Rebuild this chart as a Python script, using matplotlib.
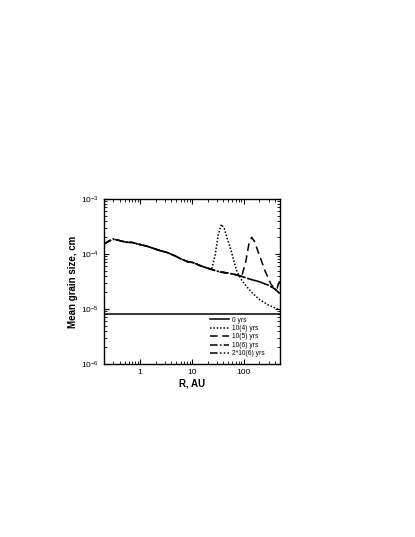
import matplotlib
matplotlib.use("Agg")
import matplotlib.pyplot as plt
from matplotlib.ticker import LogLocator, NullFormatter, FixedLocator, FixedFormatter

plt.rcParams['font.family'] = ['Liberation Sans', 'DejaVu Sans']

# Radii (AU) and mean grain sizes (cm)
r_base = [0.2, 0.25, 0.3, 0.36, 0.45, 0.55, 0.7, 0.9, 1.1, 1.43, 2.0, 2.5, 3.25, 4.5, 6.0, 8.0, 10.6, 14, 18, 25.8, 35, 50, 70, 91, 130, 205, 300, 400, 500]
a_base = [1.52e-4, 1.72e-4, 1.85e-4, 1.80e-4, 1.70e-4, 1.63e-4, 1.62e-4, 1.52e-4, 1.45e-4, 1.36e-4, 1.22e-4, 1.14e-4, 1.07e-4, 9.4e-5, 8.2e-5, 7.3e-5, 6.95e-5, 6.2e-5, 5.7e-5, 5.1e-5, 4.7e-5, 4.5e-5, 4.2e-5, 3.9e-5, 3.5e-5, 3.1e-5, 2.7e-5, 2.3e-5, 1.9e-5]

r_0 = [0.2, 500]
a_0 = [8.1e-6, 8.1e-6]

r_1e4 = [0.2, 0.25, 0.3, 0.36, 0.45, 0.55, 0.7, 0.9, 1.1, 1.43, 2.0, 2.5, 3.25, 4.5, 6.0, 8.0, 10.6, 14, 18, 24, 28, 32, 37, 42, 48, 54, 62, 72, 90, 114, 150, 205, 300, 400, 500]
a_1e4 = [1.52e-4, 1.72e-4, 1.85e-4, 1.80e-4, 1.70e-4, 1.63e-4, 1.62e-4, 1.52e-4, 1.45e-4, 1.36e-4, 1.22e-4, 1.14e-4, 1.07e-4, 9.4e-5, 8.2e-5, 7.3e-5, 6.95e-5, 6.2e-5, 5.7e-5, 5.3e-5, 9.5e-5, 2.2e-4, 3.47e-4, 2.9e-4, 1.9e-4, 1.36e-4, 8.5e-5, 5.1e-5, 3.4e-5, 2.54e-5, 1.9e-5, 1.46e-5, 1.18e-5, 1.05e-5, 9.6e-6]

r_1e5 = [0.2, 0.25, 0.3, 0.36, 0.45, 0.55, 0.7, 0.9, 1.1, 1.43, 2.0, 2.5, 3.25, 4.5, 6.0, 8.0, 10.6, 14, 18, 25.8, 35, 50, 70, 91, 110, 125, 142, 160, 205, 260, 330, 390, 440, 500]
a_1e5 = [1.52e-4, 1.72e-4, 1.85e-4, 1.80e-4, 1.70e-4, 1.63e-4, 1.62e-4, 1.52e-4, 1.45e-4, 1.36e-4, 1.22e-4, 1.14e-4, 1.07e-4, 9.4e-5, 8.2e-5, 7.3e-5, 6.95e-5, 6.2e-5, 5.7e-5, 5.1e-5, 4.7e-5, 4.5e-5, 4.2e-5, 3.9e-5, 7.5e-5, 1.5e-4, 2.0e-4, 1.7e-4, 8.9e-5, 4.8e-5, 2.9e-5, 2.3e-5, 2.4e-5, 3.4e-5]

r_1e6 = r_base
a_1e6 = a_base
r_2e6 = r_base
a_2e6 = a_base

labels = ["0 yrs", "10(4) yrs", "10(5) yrs", "10(6) yrs", "2*10(6) yrs"]
x_ticks = [1, 10, 100]
x_ticklabels = ["1", "10", "100"]

fig = plt.figure(figsize=(4.15, 5.37), dpi=100)
ax = fig.add_axes([0.2506, 0.3222, 0.4241, 0.3073])

lw = 1.1
ax.plot(r_0, a_0, color='black', lw=lw, linestyle='-', label=labels[0])
ax.plot(r_1e4, a_1e4, color='black', lw=lw, linestyle=(0, (1, 1.2)), label=labels[1])
ax.plot(r_1e5, a_1e5, color='black', lw=lw, linestyle=(0, (5, 3)), label=labels[2])
ax.plot(r_1e6, a_1e6, color='black', lw=lw, linestyle=(0, (5, 1.5, 1, 1.5)), label=labels[3])
ax.plot(r_2e6, a_2e6, color='black', lw=lw, linestyle=(0, (5, 1.5, 1, 1.5, 1, 1.5)), label=labels[4])

ax.set_xscale('log')
ax.set_yscale('log')
ax.set_xlim(0.2, 500)
ax.set_ylim(1e-6, 1e-3)

ax.xaxis.set_major_locator(FixedLocator(x_ticks))
ax.xaxis.set_major_formatter(FixedFormatter(x_ticklabels))
ax.xaxis.set_minor_locator(LogLocator(base=10, subs=range(2, 10), numticks=20))
ax.xaxis.set_minor_formatter(NullFormatter())
ax.yaxis.set_minor_locator(LogLocator(base=10, subs=range(2, 10), numticks=20))
ax.yaxis.set_minor_formatter(NullFormatter())

ax.tick_params(which='both', direction='in', top=True, right=True, labelsize=6)
ax.tick_params(which='major', length=3.5, width=0.8)
ax.tick_params(which='minor', length=2, width=0.6)
for s in ax.spines.values():
    s.set_linewidth(1.0)

ax.set_xlabel("R, AU", fontsize=7, fontweight='bold', labelpad=2)
ax.set_ylabel("Mean grain size, cm", fontsize=7, fontweight='bold', labelpad=2)

leg = ax.legend(loc='lower left', bbox_to_anchor=(0.605, 0.04), frameon=False, fontsize=4.8,
                handlelength=2.8, handletextpad=0.5, labelspacing=0.22, borderaxespad=0, borderpad=0)

fig.savefig("out.png", dpi=100)
